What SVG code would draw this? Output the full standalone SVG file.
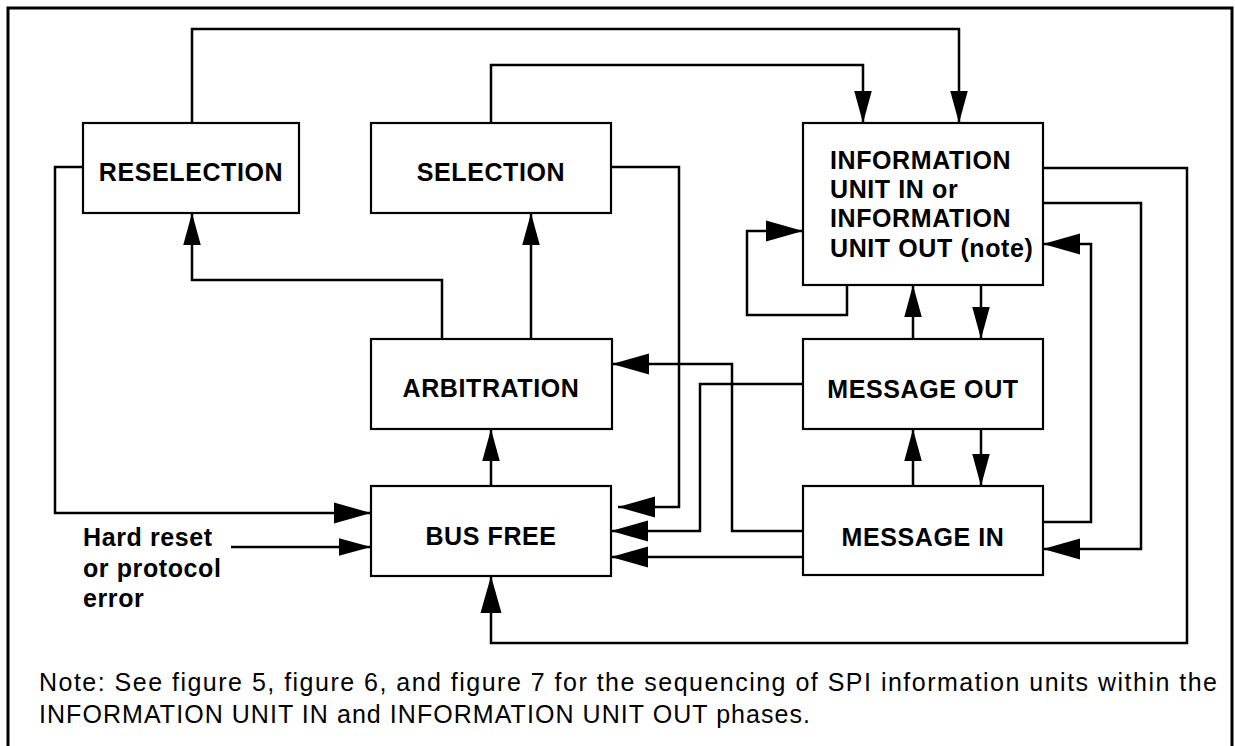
<svg xmlns="http://www.w3.org/2000/svg" width="1235" height="746" viewBox="0 0 1235 746">
<style>
.box{fill:#fff;stroke:#000;stroke-width:2.2}
.lbl{font-family:"Liberation Sans",Arial,Helvetica,sans-serif;font-weight:bold;font-size:25px;letter-spacing:0.6px;fill:#000}
.mid{text-anchor:middle}
.note{font-family:"Liberation Sans",Arial,Helvetica,sans-serif;font-size:25px;fill:#000}
.ln{fill:none;stroke:#000;stroke-width:2.5;stroke-linejoin:miter;stroke-linecap:butt}
.big{marker-end:url(#ab)}
.sm{marker-end:url(#as)}
</style>
<defs>
<marker id="ab" markerUnits="userSpaceOnUse" markerWidth="40" markerHeight="24" refX="37" refY="10.5" orient="auto" overflow="visible">
<path d="M0,0 L37,10.5 L0,21 Z" fill="#000"/>
</marker>
<marker id="as" markerUnits="userSpaceOnUse" markerWidth="34" markerHeight="20" refX="32" refY="8.75" orient="auto" overflow="visible">
<path d="M0,0 L32,8.75 L0,17.5 Z" fill="#000"/>
</marker>
</defs>
<rect width="1235" height="746" fill="#fff"/>
<path d="M8,760 V8 H1232 V760" fill="none" stroke="#000" stroke-width="3"/>

<g id="connectors">
<path class="ln sm" d="M192,123 V29 H959 V123"/>
<path class="ln sm" d="M491,123 V65 H863 V123"/>
<path class="ln big" d="M83,167 H55 V513 H371"/>
<path class="ln sm" d="M231,547 H371"/>
<path class="ln sm" d="M442,339 V280 H192 V213"/>
<path class="ln sm" d="M531,339 V213"/>
<path class="ln sm" d="M491,486 V429"/>
<path class="ln big" d="M611,167 H679 V507 H618"/>
<path class="ln big" d="M803,384 H700 V531 H611"/>
<path class="ln big" d="M803,531 H732 V364 H612"/>
<path class="ln big" d="M803,557 H611"/>
<path class="ln big" d="M847,285 V315 H747 V231 H803"/>
<path class="ln sm" d="M913,339 V285"/>
<path class="ln sm" d="M981,285 V339"/>
<path class="ln sm" d="M913,486 V429"/>
<path class="ln sm" d="M981,429 V486"/>
<path class="ln big" d="M1043,203 H1141 V549 H1043"/>
<path class="ln big" d="M1043,522 H1091 V244 H1043"/>
<path class="ln big" d="M1043,168 H1187 V643 H491 V576"/>
</g>

<g id="reselection">
<rect class="box" x="83" y="123" width="216" height="90"/>
<text class="lbl mid" x="191" y="181">RESELECTION</text>
</g>
<g id="selection">
<rect class="box" x="371" y="123" width="240" height="90"/>
<text class="lbl mid" x="491" y="181">SELECTION</text>
</g>
<g id="information-unit">
<rect class="box" x="803" y="123" width="240" height="162"/>
<text class="lbl" x="830" y="169">INFORMATION</text>
<text class="lbl" x="830" y="198">UNIT IN or</text>
<text class="lbl" x="830" y="227">INFORMATION</text>
<text class="lbl" x="830" y="257">UNIT OUT (note)</text>
</g>
<g id="arbitration">
<rect class="box" x="371" y="339" width="241" height="90"/>
<text class="lbl mid" x="491" y="397">ARBITRATION</text>
</g>
<g id="message-out">
<rect class="box" x="803" y="339" width="240" height="90"/>
<text class="lbl mid" x="923" y="398">MESSAGE OUT</text>
</g>
<g id="bus-free">
<rect class="box" x="371" y="486" width="240" height="90"/>
<text class="lbl mid" x="491" y="545">BUS FREE</text>
</g>
<g id="message-in">
<rect class="box" x="803" y="486" width="240" height="89"/>
<text class="lbl mid" x="923" y="546">MESSAGE IN</text>
</g>
<g id="hard-reset">
<text class="lbl" x="83" y="546">Hard reset</text>
<text class="lbl" x="83" y="577">or protocol</text>
<text class="lbl" x="83" y="607">error</text>
</g>
<g id="note">
<text class="note" x="39" y="691" textLength="1178" lengthAdjust="spacing">Note: See figure 5, figure 6, and figure 7 for the sequencing of SPI information units within the</text>
<text class="note" x="39" y="723" textLength="771" lengthAdjust="spacing">INFORMATION UNIT IN and INFORMATION UNIT OUT phases.</text>
</g>
</svg>
